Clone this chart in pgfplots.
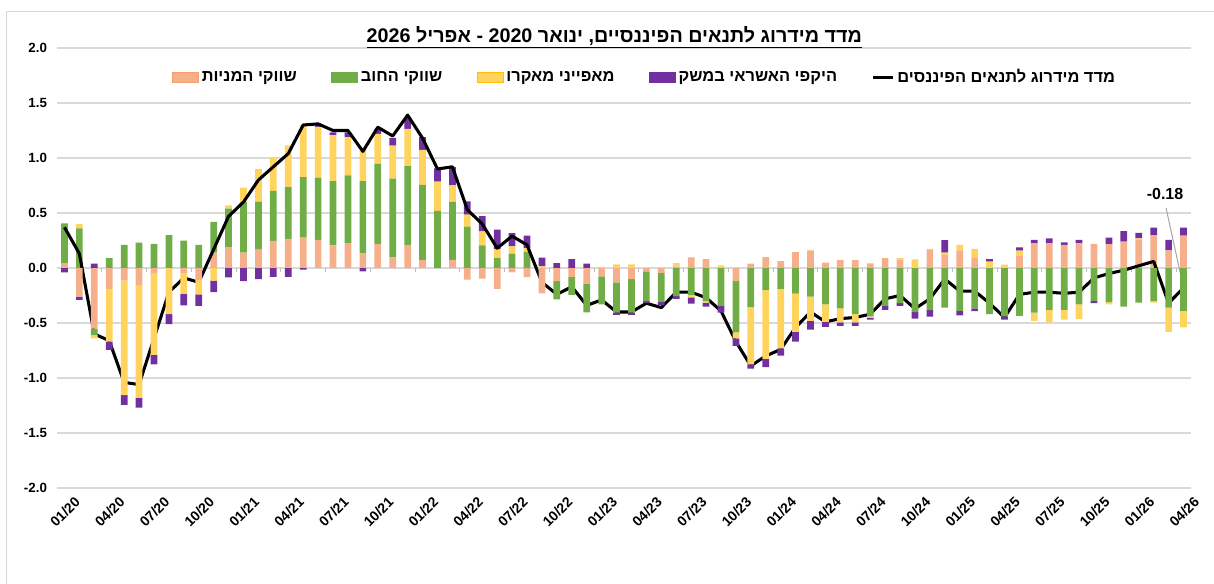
\documentclass[border=0pt]{standalone}
\usepackage{fontspec}
\setmainfont{Liberation Sans}
\newfontfamily\heb[Script=Hebrew]{Liberation Sans}
\usepackage{pgfplots}
\usepackage{pgfplotstable}
\pgfplotsset{compat=1.18}
\TeXXeTstate=1

\definecolor{sal}{HTML}{F5B08B}
\definecolor{salb}{HTML}{F4A070}
\definecolor{grn}{HTML}{70AD47}
\definecolor{yel}{HTML}{FFD45E}
\definecolor{yelb}{HTML}{FFC000}
\definecolor{pur}{HTML}{7030A0}
\definecolor{grd}{HTML}{D9D9D9}
\definecolor{lead}{HTML}{A6A6A6}

% m: month index (0 = 01/20), s: equity, g: debt, y: macro, p: credit, L: index
\pgfplotstableread{
m s g y p L
0 0.045 0.36 0 -0.04 0.37
1 -0.26 0.36 0.04 -0.03 0.13
2 -0.55 -0.06 -0.03 0.04 -0.60
3 -0.19 0.09 -0.48 -0.075 -0.66
4 -0.115 0.21 -1.04 -0.09 -1.04
5 -0.16 0.23 -1.02 -0.09 -1.06
6 -0.05 0.22 -0.74 -0.085 -0.64
7 0 0.30 -0.42 -0.09 -0.22
8 -0.045 0.25 -0.19 -0.105 -0.09
9 -0.11 0.21 -0.13 -0.105 -0.13
10 0.14 0.28 -0.115 -0.105 0.17
11 0.19 0.35 0.03 -0.085 0.47
12 0.14 0.46 0.13 -0.12 0.60
13 0.166 0.437 0.295 -0.10 0.80
14 0.247 0.455 0.30 -0.08 0.92
15 0.265 0.47 0.38 -0.08 1.04
16 0.277 0.55 0.47 -0.015 1.30
17 0.256 0.566 0.46 0.03 1.31
18 0.205 0.584 0.42 0.025 1.25
19 0.226 0.617 0.346 0.045 1.25
20 0.136 0.654 0.30 -0.03 1.06
21 0.22 0.73 0.27 0.045 1.28
22 0.096 0.717 0.30 0.07 1.20
23 0.21 0.717 0.337 0.105 1.39
24 0.075 0.68 0.32 0.115 1.18
25 0 0.52 0.265 0.12 0.90
26 0.075 0.527 0.15 0.165 0.92
27 -0.105 0.376 0.11 0.12 0.53
28 -0.096 0.205 0.127 0.14 0.40
29 -0.19 0.09 0.08 0.18 0.18
30 -0.04 0.13 0.066 0.12 0.29
31 -0.084 0.15 0.03 0.114 0.21
32 -0.23 0 0.015 0.08 -0.13
33 -0.12 -0.165 0 0.045 -0.24
34 -0.08 -0.165 0 0.08 -0.17
35 -0.144 -0.26 0 0.04 -0.34
36 -0.075 -0.255 0.01 0 -0.29
37 -0.13 -0.276 0.033 -0.02 -0.40
38 -0.10 -0.306 0.033 -0.02 -0.40
39 -0.03 -0.27 0 -0.02 -0.32
40 -0.045 -0.264 0 -0.03 -0.36
41 0.015 -0.255 0.03 -0.025 -0.22
42 0.096 -0.246 -0.02 -0.057 -0.22
43 0.08 -0.30 -0.015 -0.036 -0.27
44 0 -0.34 0.024 -0.066 -0.39
45 -0.12 -0.465 -0.054 -0.07 -0.67
46 0.04 -0.355 -0.52 -0.04 -0.89
47 0.10 -0.20 -0.625 -0.075 -0.80
48 0.063 -0.19 -0.54 -0.066 -0.74
49 0.145 -0.233 -0.347 -0.09 -0.54
50 0.16 -0.26 -0.22 -0.08 -0.40
51 0.048 -0.33 -0.16 -0.045 -0.49
52 0.072 -0.368 -0.127 -0.03 -0.46
53 0.072 -0.42 -0.075 -0.03 -0.45
54 0.042 -0.44 -0.01 -0.02 -0.42
55 0.09 -0.344 0 -0.036 -0.28
56 0.075 -0.32 0.015 -0.024 -0.25
57 0 -0.40 0.078 -0.06 -0.37
58 0.165 -0.384 0.01 -0.057 -0.28
59 0.12 -0.36 0.02 0.114 -0.10
60 0.16 -0.39 0.05 -0.04 -0.21
61 0.09 -0.366 0.084 -0.027 -0.21
62 0 -0.42 0.057 0.024 -0.32
63 0 -0.44 0.03 -0.03 -0.45
64 0.11 -0.435 0.048 0.03 -0.24
65 0.225 -0.405 -0.075 0.03 -0.22
66 0.225 -0.38 -0.114 0.045 -0.22
67 0.21 -0.38 -0.09 0.024 -0.23
68 0.225 -0.33 -0.135 0.03 -0.22
69 0.22 -0.30 0 -0.02 -0.09
70 0.216 -0.31 -0.02 0.06 -0.05
71 0.24 -0.35 0 0.096 -0.02
72 0.26 -0.315 0.01 0.05 0.02
73 0.30 -0.30 -0.015 0.066 0.06
74 0.16 -0.36 -0.22 0.096 -0.32
75 0.294 -0.39 -0.15 0.072 -0.18
}\data

\pgfplotsset{
  sqleg/.style={legend image code/.code={\path[#1] (0pt,-3.8pt) rectangle (19.5pt,3.8pt);}},
  lnleg/.style={legend image code/.code={\draw[black,line width=2.2pt] (2pt,0pt) -- (17pt,0pt);}},
  base/.style={
    width=850.5pt, height=330pt, scale only axis,
    at={(0pt,0pt)}, anchor=south west,
    xmin=-0.5, xmax=75.5, ymin=-2, ymax=2,
    ybar stacked, bar width=0.45,
  },
}

\begin{document}
\begin{tikzpicture}
\useasboundingbox (-42.75pt,-71.25pt) rectangle (867.75pt,366pt);
\draw[grd, line width=0.75pt] (-37.5pt,-80pt) -- (-37.5pt,357pt) -- (900pt,357pt);

% axis 1: grid, tick labels, positive parts
\begin{axis}[base,
  axis line style={draw=none}, major tick length=0pt,
  ytick={-2,-1.5,...,2}, ymajorgrids, grid style={grd, line width=0.9pt},
  yticklabel={\pgfmathprintnumber[fixed,fixed zerofill,precision=1,assume math mode=true]{\tick}},
  yticklabel style={font=\bfseries\fontsize{10}{12}\selectfont, xshift=-4pt},
  xtick={0,3,...,75},
  xticklabels={01/20,04/20,07/20,10/20,01/21,04/21,07/21,10/21,01/22,04/22,07/22,10/22,01/23,04/23,07/23,10/23,01/24,04/24,07/24,10/24,01/25,04/25,07/25,10/25,01/26,04/26},
  xticklabel style={rotate=45, anchor=east, inner sep=0pt, yshift=-13pt, xshift=1pt, font=\bfseries\fontsize{10.5}{12}\selectfont},
]
\pgfplotsinvokeforeach{-0.5,2.5,...,74.5}{\draw[grd!70!gray, line width=0.75pt] (axis cs:#1,0) -- ++(0pt,-3pt);}
\addplot[fill=sal, draw=none, forget plot] table[x=m, y expr={max(\thisrow{s},0)}]{\data};
\addplot[fill=grn, draw=none, forget plot] table[x=m, y expr={max(\thisrow{g},0)}]{\data};
\addplot[fill=yel, draw=none, forget plot] table[x=m, y expr={max(\thisrow{y},0)}]{\data};
\addplot[fill=pur, draw=none, forget plot] table[x=m, y expr={max(\thisrow{p},0)}]{\data};
\end{axis}

% axis 2: negative parts, index line, legend, annotation
\begin{axis}[base, hide axis,
  legend style={at={(0.5185,0.934)}, anchor=center, draw=none, fill=none,
    font=\heb\bfseries\fontsize{12.3}{14}\selectfont,
    /tikz/every even column/.append style={column sep=24pt}},
  legend columns=5,
]
\addplot[fill=sal, draw=none, forget plot] table[x=m, y expr={min(\thisrow{s},0)}]{\data};
\addplot[fill=grn, draw=none, forget plot] table[x=m, y expr={min(\thisrow{g},0)}]{\data};
\addplot[fill=yel, draw=none, forget plot] table[x=m, y expr={min(\thisrow{y},0)}]{\data};
\addplot[fill=pur, draw=none, forget plot] table[x=m, y expr={min(\thisrow{p},0)}]{\data};
\addplot[sharp plot, stack plots=false, black, line width=2.3pt, line join=round, forget plot] table[x=m, y=L]{\data};
\draw[lead, line width=0.75pt] (axis cs:73.83,0.545) -- (axis cs:75,-0.18);
\node[font=\bfseries\fontsize{12}{14}\selectfont] at (axis cs:73.76,0.67) {-0.18};
\addlegendimage{sqleg={fill=sal,draw=salb,line width=0.6pt}}\addlegendentry{\beginR שווקי המניות\endR}
\addlegendimage{sqleg={fill=grn,draw=grn,line width=0.6pt}}\addlegendentry{\beginR שווקי החוב\endR}
\addlegendimage{sqleg={fill=yel,draw=yelb,line width=0.6pt}}\addlegendentry{\beginR מאפייני מאקרו\endR}
\addlegendimage{sqleg={fill=pur,draw=pur,line width=0.6pt}}\addlegendentry{\beginR היקפי האשראי במשק\endR}
\addlegendimage{lnleg}\addlegendentry{\beginR מדד מידרוג לתנאים הפיננסים\endR}
\end{axis}

\node[font=\heb\bfseries\fontsize{14.8}{17}\selectfont] at (418pt,338.25pt)
  {\underline{\beginR מדד מידרוג לתנאים הפיננסיים, ינואר 2020 - אפריל 2026\endR}};
\end{tikzpicture}
\end{document}
